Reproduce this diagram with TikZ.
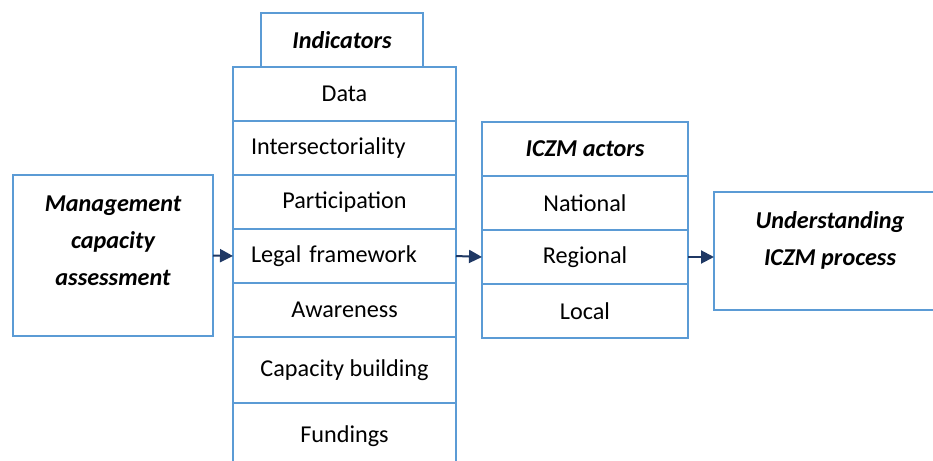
\documentclass[tikz,border=0pt]{standalone}
\usepackage{fontspec}
\setmainfont{Carlito}
\usepackage{xcolor}
\usetikzlibrary{arrows.meta,positioning}

\definecolor{boxblue}{HTML}{5B9BD5}
\definecolor{arrownavy}{HTML}{1F3864}

\begin{document}
\begin{tikzpicture}[
  x=0.5pt, y=-0.5pt,
  node distance=0pt,
  box/.style={draw=boxblue, line width=0.75pt, outer sep=0pt, align=center, font=\fontsize{12.1}{18.5}\selectfont},
  cell/.style={box, minimum width=111.5pt, minimum height=27pt},
  offcell/.style={cell, align=left, text width=93.5pt, inner xsep=9pt},
  actor/.style={box, minimum width=103pt, minimum height=27pt},
  head/.style={font=\fontsize{12.1}{18.5}\selectfont\bfseries\itshape},
  arrow/.style={-{Triangle[length=6.5pt, width=6.5pt]}, draw=arrownavy, fill=arrownavy, line width=1pt}
]
\clip (0,0) rectangle (933,461);
\useasboundingbox (0,0) rectangle (933,461);

% management capacity
\node[box, minimum width=100pt, minimum height=80.5pt, text depth=15pt, head] (mgmt) at (113,255.5) {Management\\capacity\\assessment};

% indicators column
\node[cell] (data) at (344.5,94) {Data};
\node[offcell, below=of data] (inter) {Intersectoriality};
\node[cell, below=of inter] (partic) {Participation};
\node[offcell, below=of partic, inner xsep=8.5pt] (legal) {Legal framework};
\node[cell, below=of legal] (aware) {Awareness};
\node[cell, below=of aware, minimum height=33pt] (capac) {Capacity building};
\node[cell, below=of capac, minimum height=33pt] (fund) {Fundings};
\node[box, head, above=of data, xshift=-1.25pt, minimum width=81pt, minimum height=27pt] (indic) {Indicators};

% actors column
\node[actor, head] (actors) at (585,149) {ICZM actors};
\node[actor, below=of actors] (nation) {National};
\node[actor, below=of nation] (region) {Regional};
\node[actor, below=of region] (local) {Local};

% outcome
\node[box, head, minimum width=116pt, minimum height=59pt, text depth=12.5pt] (under) at (830,251) {Understanding\\ICZM process};

\draw[arrow] (mgmt.east) -- (legal.west);
\draw[arrow] (legal.east) -- (region.west);
\draw[arrow] (region.east) -- (region.east -| under.west);
\end{tikzpicture}
\end{document}
